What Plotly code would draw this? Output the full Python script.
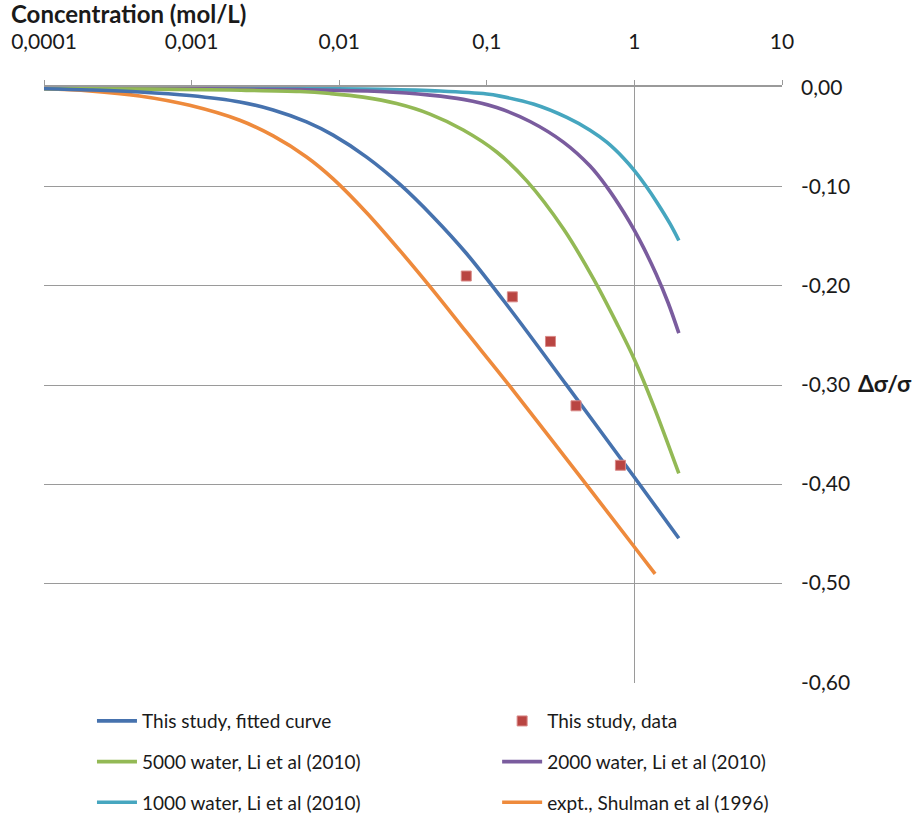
import plotly.graph_objects as go

# ---- data ----
fit_c = [0.0001, 0.000204, 0.000445, 0.00097, 0.00212, 0.00357, 0.00601, 0.0091, 0.01534,
         0.02581, 0.04337, 0.0731, 0.1436, 0.3483, 1, 2]
fit_v = [-0.001, -0.0022, -0.0042, -0.0078, -0.0143, -0.0224, -0.0344, -0.0478, -0.0700,
         -0.0975, -0.1303, -0.1675, -0.2233, -0.3004, -0.3931, -0.4547]

data_c = [0.0726, 0.149, 0.27, 0.402, 0.804]
data_v = [-0.190, -0.211, -0.256, -0.321, -0.381]

w5000_c = [0.0001, 0.00052, 0.00182, 0.00542, 0.00865, 0.01455, 0.02449, 0.0412, 0.0693,
           0.1167, 0.1865, 0.3302, 0.5272, 0.7789, 1, 1.345, 2]
w5000_v = [-0.0008, -0.0013, -0.0023, -0.0038, -0.0058, -0.0094, -0.0159, -0.0265, -0.0426,
           -0.0648, -0.0940, -0.1423, -0.1926, -0.2410, -0.2742, -0.3205, -0.3893]

w2000_c = [0.0001, 0.001135, 0.00542, 0.01888, 0.0412, 0.0693, 0.1167, 0.1963, 0.3302,
           0.5008, 0.650, 0.842, 1, 1.151, 1.403, 1.692, 2]
w2000_v = [-0.0003, -0.0010, -0.0018, -0.0038, -0.0074, -0.0117, -0.0199, -0.0340, -0.0548,
           -0.0790, -0.1000, -0.1251, -0.1439, -0.1611, -0.1880, -0.2170, -0.2477]

w1000_c = [0.0001, 0.00542, 0.01888, 0.04817, 0.1, 0.1229, 0.2067, 0.3483, 0.5008, 0.650,
           0.842, 1, 1.214, 1.419, 1.746, 2]
w1000_v = [-0.0002, -0.0006, -0.0016, -0.0033, -0.0063, -0.0084, -0.0164, -0.0299, -0.0428,
           -0.0549, -0.0708, -0.0836, -0.1004, -0.1155, -0.1374, -0.1541]

shul_c = [0.0001, 0.000204, 0.000445, 0.00097, 0.00212, 0.00357, 0.00601, 0.0091, 0.01534,
          0.02581, 0.04337, 0.0731, 0.1436, 0.4755, 1, 1.381]
shul_v = [-0.001, -0.0031, -0.0082, -0.0177, -0.0328, -0.0486, -0.0698, -0.0919, -0.1261,
          -0.1644, -0.2047, -0.2470, -0.3014, -0.4011, -0.4635, -0.4907]

x_tickvals = [0.0001, 0.001, 0.01, 0.1, 1, 10]
x_ticktext = ["0,0001", "0,001", "0,01", "0,1", "1", "10"]
y_tickvals = [0, -0.1, -0.2, -0.3, -0.4, -0.5, -0.6]
y_ticktext = ["0,00", "-0,10", "-0,20", "-0,30", "-0,40", "-0,50", "-0,60"]

FONT = "Lato, 'Open Sans', sans-serif"
BLUE = "#4672AE"
RED = "#B94542"
GREEN = "#93B955"
PURPLE = "#7A5C9E"
CYAN = "#46A6BF"
ORANGE = "#EE8A3C"
GRID = "#9a9a9a"
TXT = "#1a1a1a"

fig = go.Figure()


def line(x, y, name, color, legend, rank):
    return go.Scatter(x=x, y=y, mode="lines", name=name, legend=legend,
                      legendgroup=name, legendrank=rank,
                      line=dict(color=color, width=3.6, shape="spline", smoothing=1.0))


fig.add_trace(line(shul_c, shul_v, "expt., Shulman et al (1996)", ORANGE, "legend2", 3))
fig.add_trace(line(w1000_c, w1000_v, "1000 water, Li et al (2010)", CYAN, "legend", 3))
fig.add_trace(line(w2000_c, w2000_v, "2000 water, Li et al (2010)", PURPLE, "legend2", 2))
fig.add_trace(line(w5000_c, w5000_v, "5000 water, Li et al (2010)", GREEN, "legend", 2))
fig.add_trace(line(fit_c, fit_v, "This study, fitted curve", BLUE, "legend", 1))
fig.add_trace(go.Scatter(x=data_c, y=data_v, mode="markers", name="This study, data",
                         legend="legend2", legendgroup="data", legendrank=1,
                         marker=dict(symbol="square", size=10, color=RED,
                                     line=dict(color="#D98A88", width=1))))

legend_common = dict(font=dict(family=FONT, size=19, color=TXT),
                     bgcolor="rgba(0,0,0,0)", tracegroupgap=13,
                     yanchor="top", xanchor="left", y=-0.032, itemwidth=40)

fig.update_layout(
    width=918, height=813,
    margin=dict(l=44, r=136, t=87, b=130, autoexpand=False),
    paper_bgcolor="white", plot_bgcolor="white",
    font=dict(family=FONT, size=19, color=TXT),
    legend=dict(x=0.065, **legend_common),
    legend2=dict(x=0.614, **legend_common),
    xaxis=dict(type="log", range=[-4, 1], side="top", automargin=False,
               tickvals=x_tickvals, ticktext=x_ticktext,
               showgrid=False, zeroline=False,
               showline=True, linecolor=GRID, linewidth=1.5,
               ticks="outside", ticklen=5, tickcolor=GRID,
               ticklabelstandoff=23,
               tickfont=dict(family=FONT, size=21, color=TXT)),
    xaxis2=dict(type="log", range=[-4, 1], overlaying="x", side="top", automargin=False,
                tickvals=[1], showticklabels=False, ticks="",
                showgrid=True, gridcolor=GRID, gridwidth=1.2,
                zeroline=False, showline=False),
    yaxis=dict(range=[-0.6008, 0.0008], side="right", automargin=False,
               tickvals=y_tickvals, ticktext=y_ticktext,
               showgrid=True, gridcolor=GRID, gridwidth=1.2,
               zeroline=False, showline=False, ticks="",
               ticklabelstandoff=18,
               tickfont=dict(family=FONT, size=21, color=TXT)),
    annotations=[
        dict(text="<b>Concentration (mol/L)</b>", xref="paper", yref="paper",
             x=-0.047, y=1.0, xanchor="left", yanchor="bottom", yshift=57,
             showarrow=False, font=dict(family=FONT, size=24, color=TXT)),
        dict(text="<b>Δσ/σ</b>", xref="paper", yref="y", x=1.0, y=-0.3,
             xanchor="left", yanchor="middle", xshift=74, yshift=2,
             showarrow=False, font=dict(family=FONT, size=23, color=TXT)),
    ],
)

# invisible trace to activate the secondary x axis (vertical axis line at 1)
fig.add_trace(go.Scatter(x=[1], y=[0], xaxis="x2", mode="markers",
                         marker=dict(opacity=0), showlegend=False, hoverinfo="skip"))

# remove the default 8px page margin so the 918x813 figure fills the window
fig.write_html("out.html",
               config={"displayModeBar": False},
               post_script="document.body.style.margin='0';document.body.style.overflow='hidden';")
